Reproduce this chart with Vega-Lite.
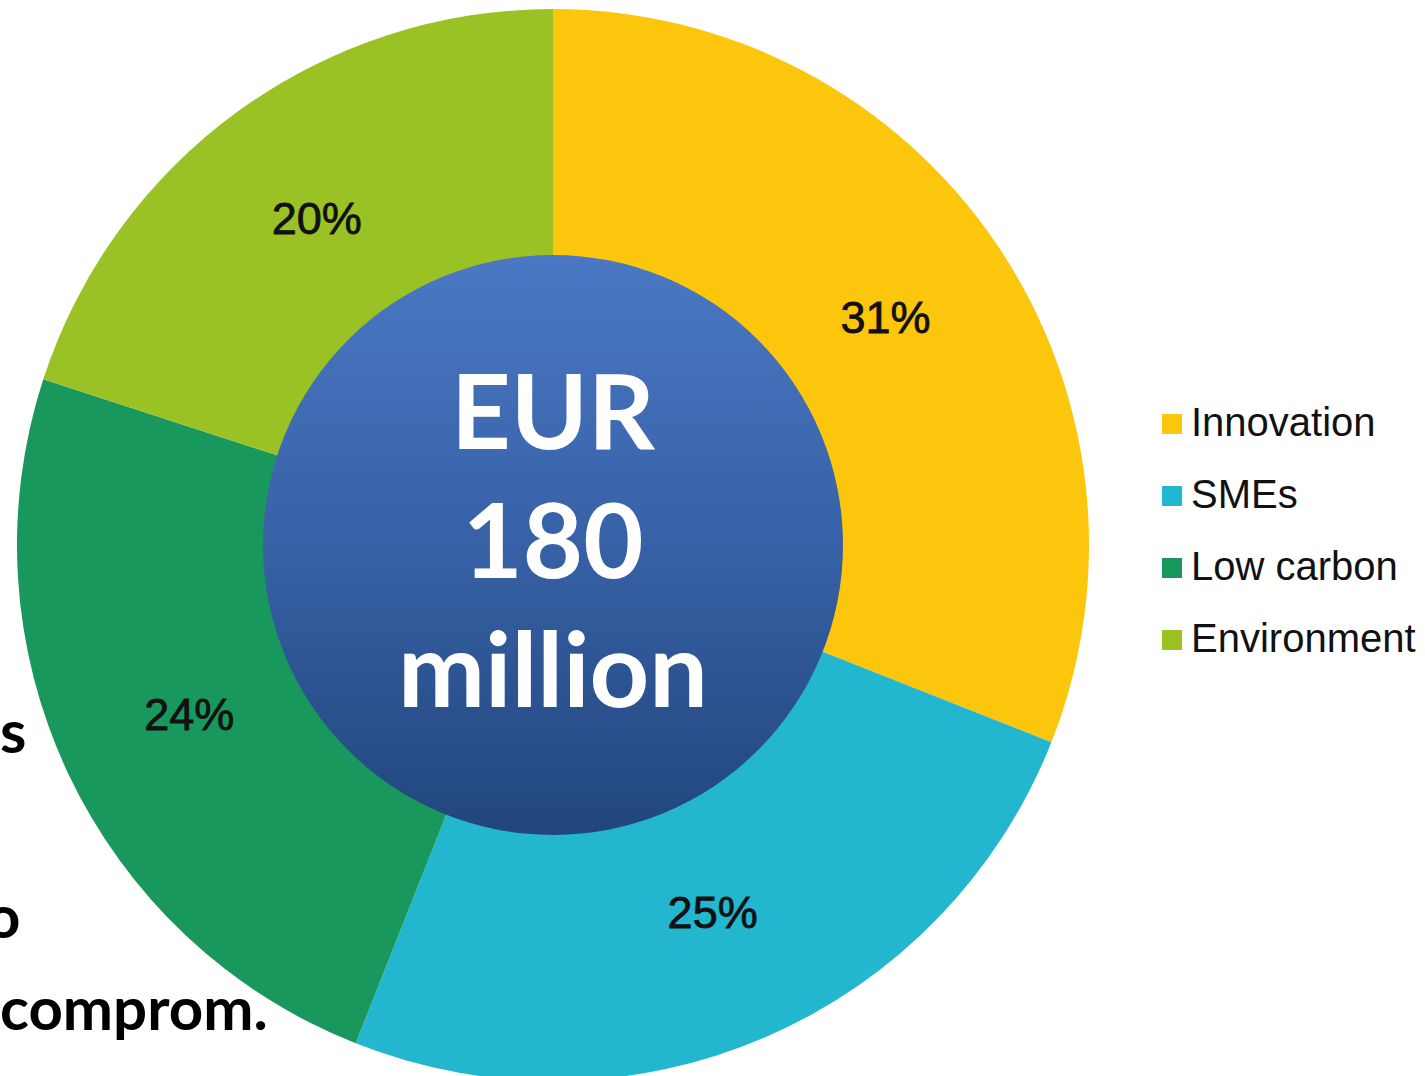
{
  "$schema": "https://vega.github.io/schema/vega-lite/v6.json",
  "width": 1106,
  "height": 1062,
  "autosize": {"type": "none"},
  "padding": {"left": 0, "top": 14, "right": 319, "bottom": 0},
  "background": "white",
  "config": {"view": {"stroke": null}},
  "datasets": {
    "shares": [
      {"sector": "Innovation", "value": 0.31, "order": 1},
      {"sector": "SMEs", "value": 0.25, "order": 2},
      {"sector": "Low carbon", "value": 0.24, "order": 3},
      {"sector": "Environment", "value": 0.20, "order": 4}
    ],
    "center": [{"label": "EUR\n180\nmillion"}],
    "notes": [
      {"line": "s", "row": 1},
      {"line": "comprom.", "row": 4}
    ],
    "notes2": [
      {"line": "o", "row": 3}
    ]
  },
  "layer": [
    {
      "data": {"name": "shares"},
      "mark": {"type": "arc", "outerRadius": 536, "innerRadius": 0, "strokeWidth": 0},
      "encoding": {
        "theta": {"field": "value", "type": "quantitative", "stack": true},
        "order": {"field": "order", "type": "quantitative"},
        "color": {
          "field": "sector",
          "type": "nominal",
          "scale": {
            "domain": ["Innovation", "SMEs", "Low carbon", "Environment"],
            "range": ["#FCC60D", "#23B6CF", "#18985D", "#9BC224"]
          },
          "legend": {
            "title": null,
            "orient": "none",
            "legendX": 1152,
            "legendY": 390,
            "symbolType": "square",
            "symbolSize": 400,
            "symbolStrokeWidth": 0,
            "labelFont": "Liberation Sans",
            "labelFontSize": 40,
            "labelColor": "#111111",
            "labelOffset": -1,
            "labelLimit": 0,
            "rowPadding": 32,
            "padding": 0
          }
        }
      }
    },
    {
      "data": {"name": "shares"},
      "mark": {"type": "text", "radius": 402, "font": "Liberation Sans", "fontSize": 45, "color": "#111111", "stroke": "#111111", "strokeWidth": 0.8, "align": "center", "baseline": "middle"},
      "encoding": {
        "theta": {"field": "value", "type": "quantitative", "stack": true},
        "order": {"field": "order", "type": "quantitative"},
        "text": {"field": "value", "type": "quantitative", "format": ".0%"}
      }
    },
    {
      "data": {"name": "center"},
      "mark": {
        "type": "arc",
        "outerRadius": 290,
        "innerRadius": 0,
        "theta": 0,
        "theta2": 6.2832,
        "fill": {
          "gradient": "linear",
          "x1": 0, "y1": 0, "x2": 0, "y2": 1,
          "stops": [
            {"offset": 0, "color": "#4A78C4"},
            {"offset": 0.5, "color": "#3761A6"},
            {"offset": 1, "color": "#21467C"}
          ]
        },
        "strokeWidth": 0
      },
      "encoding": {}
    },
    {
      "data": {"name": "center"},
      "mark": {"type": "text", "font": "Lato", "fontWeight": "bold", "fontSize": 104, "lineHeight": 129, "lineBreak": "\n", "color": "white", "align": "center", "baseline": "middle", "dy": -127},
      "encoding": {"text": {"field": "label"}}
    },
    {
      "data": {"name": "notes"},
      "mark": {"type": "text", "font": "Lato", "fontWeight": "bold", "fontSize": 60, "color": "#000000", "align": "left", "baseline": "alphabetic"},
      "encoding": {
        "x": {"value": 0},
        "y": {"field": "row", "type": "quantitative", "scale": {"domain": [1, 4], "range": [739, 1016], "zero": false, "nice": false}, "axis": null},
        "text": {"field": "line"}
      }
    },
    {
      "data": {"name": "notes2"},
      "mark": {"type": "text", "font": "Lato", "fontWeight": "bold", "fontSize": 60, "color": "#000000", "align": "left", "baseline": "alphabetic", "dx": -14},
      "encoding": {
        "x": {"value": 0},
        "y": {"field": "row", "type": "quantitative", "scale": {"domain": [1, 4], "range": [739, 1016], "zero": false, "nice": false}, "axis": null},
        "text": {"field": "line"}
      }
    }
  ]
}
